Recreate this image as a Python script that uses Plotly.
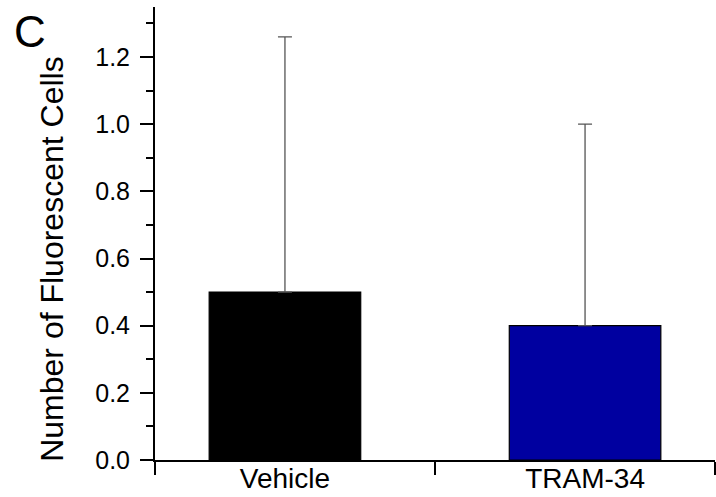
import plotly.graph_objects as go

categories = ["Vehicle", "TRAM-34"]
means = [0.5, 0.4]
errors_plus = [0.76, 0.6]
bar_colors = ["#000000", "#0000A0"]
y_ticks = [0.0, 0.2, 0.4, 0.6, 0.8, 1.0, 1.2]
y_ticklabels = ["0.0", "0.2", "0.4", "0.6", "0.8", "1.0", "1.2"]

xpos = list(range(len(categories)))
x_lo, x_hi = -0.433, 1.433

fig = go.Figure()
fig.add_trace(go.Bar(
    x=xpos, y=means, width=0.505,
    marker=dict(color=bar_colors, line=dict(color="#000000", width=1.2)),
    error_y=dict(type="data", array=errors_plus, arrayminus=[0, 0], symmetric=False,
                 color="#555555", thickness=1.3, width=7),
))

font_family = "Liberation Sans, Arial, sans-serif"
fig.update_layout(
    width=716, height=497,
    margin=dict(l=155, r=1, t=7, b=37),
    paper_bgcolor="white", plot_bgcolor="white",
    showlegend=False,
    font=dict(family=font_family, size=25, color="black"),
    xaxis=dict(
        range=[x_lo, x_hi], tickvals=xpos, ticktext=categories,
        ticks="", showgrid=False, zeroline=False, automargin=False,
        showline=True, linecolor="black", linewidth=2,
        tickfont=dict(size=28), ticklabelstandoff=-8,
        minor=dict(ticks="outside", tick0=0.5, dtick=x_hi - 0.5, ticklen=13,
                   tickwidth=2, tickcolor="black", showgrid=False),
    ),
    yaxis=dict(
        range=[0, 1.349], tickvals=y_ticks, ticktext=y_ticklabels,
        ticks="outside", ticklen=13, tickwidth=2, tickcolor="black",
        showgrid=False, zeroline=False, automargin=False,
        showline=True, linecolor="black", linewidth=2,
        tickfont=dict(size=25), ticklabelstandoff=5,
        minor=dict(ticks="outside", tick0=0.1, dtick=0.2, ticklen=7,
                   tickwidth=2, tickcolor="black", showgrid=False),
    ),
    annotations=[
        dict(text="Number of Fluorescent Cells", textangle=-90,
             xref="paper", yref="paper", x=-0.184, y=0.444,
             xanchor="center", yanchor="middle", showarrow=False,
             font=dict(size=32)),
        dict(text="C", xref="paper", yref="paper", x=-0.223, y=0.945,
             xanchor="center", yanchor="middle", showarrow=False,
             font=dict(size=44)),
    ],
)

fig.write_html("out.html", config={"displayModeBar": False},
               post_script="document.body.style.margin='0';document.body.style.padding='0';")
